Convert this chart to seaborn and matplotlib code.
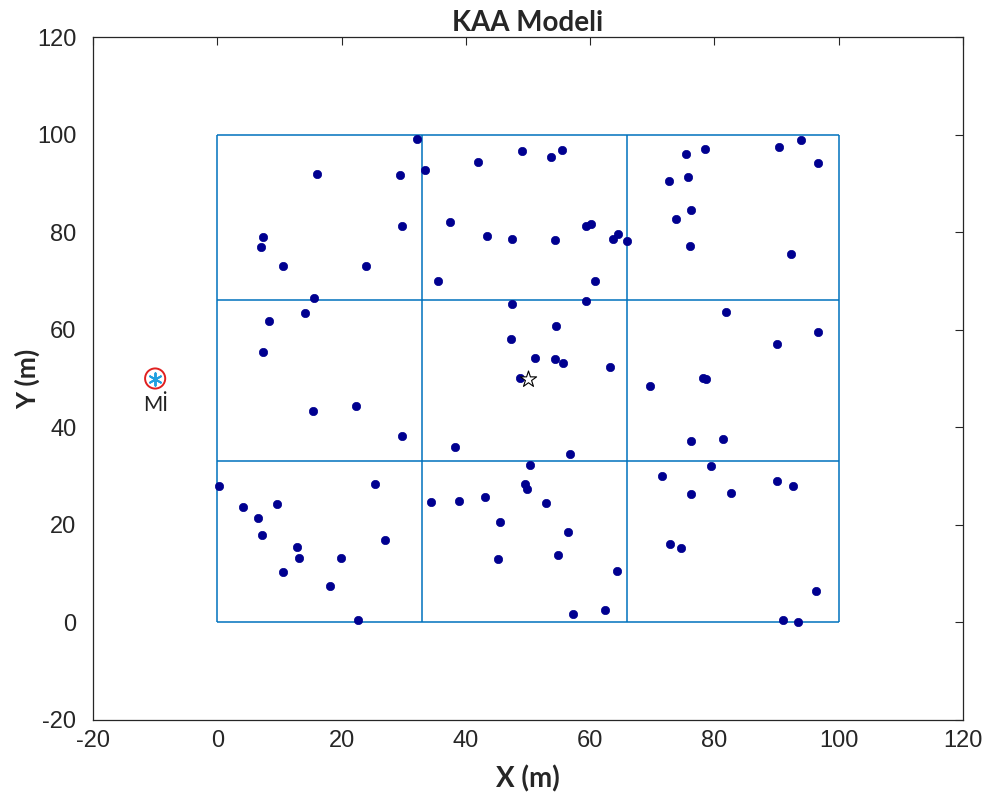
import matplotlib
matplotlib.use("Agg")
import matplotlib.pyplot as plt
import seaborn as sns
import pandas as pd

# --- data -------------------------------------------------------------
node_x = [32.2, 16.0, 29.4, 33.5, 29.8, 7.4, 7.0, 10.5, 23.9, 15.6, 14.1, 8.4, 7.4, 15.4, 22.4, 29.8,
          42.0, 49.0, 53.7, 55.4, 37.4, 43.4, 47.4, 54.3, 59.4, 60.2, 63.6, 64.5, 65.9, 35.5, 60.8, 47.4, 59.4,
          75.5, 78.5, 90.4, 94.0, 96.7, 72.7, 75.7, 76.2, 73.8, 76.0, 92.3, 81.9,
          54.5, 47.2, 51.2, 54.3, 55.6, 63.2, 48.7, 38.3, 56.8, 50.4,
          96.7, 90.1, 78.2, 78.6, 69.6, 76.2, 81.4, 79.4,
          0.2, 4.2, 9.6, 6.6, 7.2, 12.9, 13.1, 19.9, 10.5, 18.1, 22.7, 25.4, 27.0,
          34.4, 38.9, 43.0, 45.5, 45.1, 49.5, 49.8, 52.9, 56.5, 54.9, 64.3, 62.4, 57.3,
          71.6, 76.3, 82.6, 90.1, 92.6, 72.9, 74.6, 96.3, 91.1, 93.5]
node_y = [99.0, 92.0, 91.7, 92.7, 81.2, 79.1, 76.9, 73.1, 73.1, 66.4, 63.5, 61.7, 55.5, 43.3, 44.4, 38.2,
          94.3, 96.7, 95.5, 96.8, 82.1, 79.2, 78.5, 78.4, 81.2, 81.6, 78.6, 79.7, 78.2, 69.9, 70.0, 65.2, 65.9,
          96.1, 97.0, 97.5, 98.9, 94.2, 90.4, 91.4, 84.5, 82.6, 77.1, 75.5, 63.6,
          60.8, 58.1, 54.1, 54.0, 53.1, 52.4, 50.1, 36.0, 34.5, 32.3,
          59.5, 57.1, 50.2, 50.0, 48.4, 37.1, 37.5, 32.1,
          28.0, 23.7, 24.3, 21.5, 17.9, 15.5, 13.2, 13.2, 10.3, 7.5, 0.4, 28.3, 16.8,
          24.7, 24.9, 25.8, 20.5, 13.1, 28.3, 27.3, 24.4, 18.5, 13.9, 10.5, 2.5, 1.7,
          30.1, 26.4, 26.5, 28.9, 27.9, 16.1, 15.3, 6.4, 0.4, 0.0]
grid_bounds = [0, 33, 66, 100]
center_x, center_y = [50.0], [50.0]
sink_x, sink_y = [-10.0], [50.0]
sink_label = "Mİ"
ticks = [-20, 0, 20, 40, 60, 80, 100, 120]
title = "KAA Modeli"
xlabel, ylabel = "X (m)", "Y (m)"

# --- figure -----------------------------------------------------------
sns.set_style("white")
plt.rcParams["font.family"] = ["Liberation Sans", "DejaVu Sans"]
plt.rcParams["axes.unicode_minus"] = False

fig = plt.figure(figsize=(9.88, 8.07), dpi=100)
ax = fig.add_axes([93 / 988, 1 - 720 / 807, 870 / 988, 683 / 807])

grid_color = "#0072BD"
lo, hi = grid_bounds[0], grid_bounds[-1]
ax.vlines(grid_bounds, lo, hi, colors=grid_color, linewidth=1.1, zorder=1)
ax.hlines(grid_bounds, lo, hi, colors=grid_color, linewidth=1.1, zorder=1)

df = pd.DataFrame({"x": node_x, "y": node_y})
sns.scatterplot(data=df, x="x", y="y", ax=ax, color="#000090", s=36,
                edgecolor="#000090", linewidth=0.5, zorder=3, legend=False)

sns.scatterplot(x=center_x, y=center_y, ax=ax, marker="*", s=150,
                facecolor="white", edgecolor="black", linewidth=0.8, zorder=4, legend=False)

sns.scatterplot(x=sink_x, y=sink_y, ax=ax, marker="o", s=210,
                facecolor="none", edgecolor="#E02020", linewidth=1.4, zorder=4, legend=False)
sns.scatterplot(x=sink_x, y=sink_y, ax=ax, marker=(6, 2, 0), s=80,
                color="#20A0E0", edgecolor="#20A0E0", linewidth=1.4, zorder=5, legend=False)
ax.text(sink_x[0], sink_y[0] - 3.3, sink_label, ha="center", va="top",
        fontsize=15, family=["Lato", "DejaVu Sans"], color="#222222")

ax.set_xlim(-20, 120)
ax.set_ylim(-20, 120)
ax.set_xticks(ticks)
ax.set_yticks(ticks)
ax.tick_params(direction="in", top=True, right=True, length=6, width=0.8,
               labelsize=17, colors="#262626")
ax.tick_params(axis="x", pad=7)
ax.tick_params(axis="y", pad=12)
for sp in ax.spines.values():
    sp.set_color("#262626")
    sp.set_linewidth(0.9)

ax.set_title(title, fontsize=20, fontweight="bold", family=["Lato", "DejaVu Sans"], pad=4)
ax.set_xlabel(xlabel, fontsize=20, fontweight="bold", family=["Lato", "DejaVu Sans"])
ax.set_ylabel(ylabel, fontsize=19, fontweight="bold", family=["Lato", "DejaVu Sans"])
ax.xaxis.set_label_coords(0.5, -0.066)
ax.yaxis.set_label_coords(-0.061, 0.5)

fig.savefig("out.png", dpi=100)
